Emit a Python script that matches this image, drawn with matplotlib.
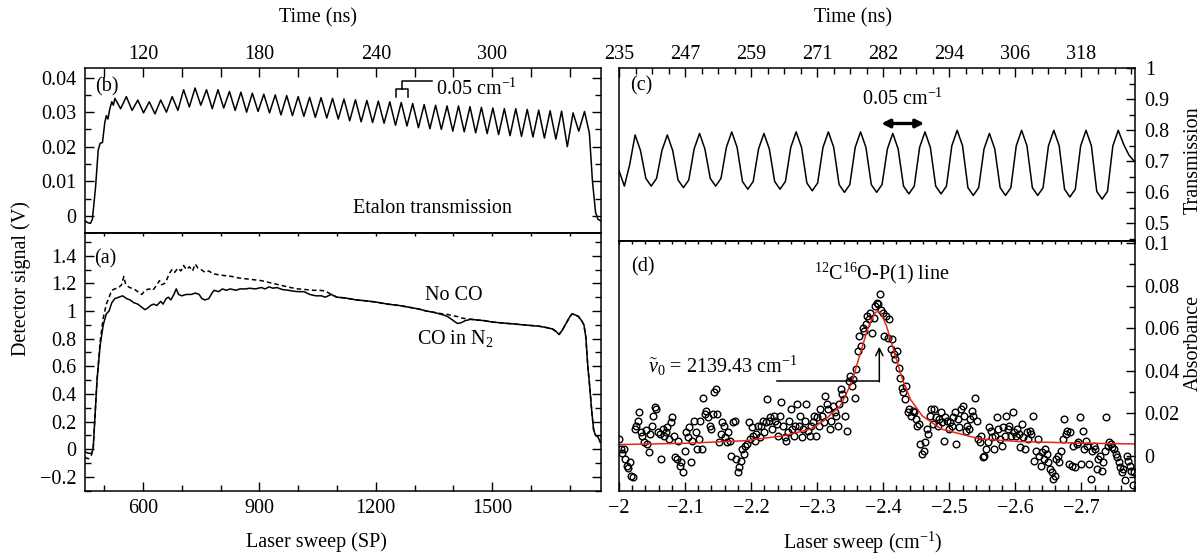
import matplotlib.pyplot as plt
import numpy as np
from matplotlib.ticker import MultipleLocator, FuncFormatter

plt.rcParams['font.family'] = ['Liberation Serif', 'DejaVu Serif']
plt.rcParams['mathtext.fontset'] = 'custom'
plt.rcParams['mathtext.rm'] = 'Liberation Serif'
plt.rcParams['mathtext.it'] = 'Liberation Serif:italic'
plt.rcParams['font.size'] = 14.5
plt.rcParams['axes.linewidth'] = 1.1

# ---- panel (b): etalon transmission, detector signal (V) vs sweep point
etalon_sp_start = [451, 458, 465, 470, 478, 485, 490, 496, 502, 506, 510, 515, 520, 524]
etalon_v_start = [-0.0015, -0.002, -0.0022, -0.001, 0.008, 0.019, 0.021, 0.0212,
                  0.027, 0.029, 0.028, 0.031, 0.033, 0.032]
# alternating peak / trough, half a fringe apart (14.75 SP)
etalon_sp_osc = np.arange(528, 1738, 14.75)
etalon_v_osc = [0.034, 0.031, 0.0345, 0.0305, 0.0335, 0.0298, 0.033, 0.0295, 0.0335, 0.030,
                0.0345, 0.0305, 0.0365, 0.0315, 0.037, 0.032, 0.0365, 0.031, 0.0365, 0.0312,
                0.036, 0.0305, 0.0358, 0.030, 0.0355, 0.0302, 0.0352, 0.0298, 0.035, 0.0292,
                0.0348, 0.029, 0.0345, 0.0288, 0.0343, 0.0285, 0.0342, 0.0283, 0.034, 0.028,
                0.0338, 0.0275, 0.0336, 0.0272, 0.0334, 0.027, 0.0332, 0.0268, 0.033, 0.0262,
                0.0328, 0.026, 0.0325, 0.0255, 0.0322, 0.0252, 0.032, 0.025, 0.0318, 0.0245,
                0.0318, 0.0243, 0.0316, 0.024, 0.0314, 0.0238, 0.0312, 0.0235, 0.031, 0.0232,
                0.031, 0.023, 0.0308, 0.0228, 0.0306, 0.0225, 0.0304, 0.0222, 0.0303, 0.020,
                0.0298, 0.0245, 0.0302]
etalon_sp_end = [1750, 1758, 1766, 1772, 1780]
etalon_v_end = [0.024, 0.010, 0.001, -0.001, -0.0015]

# ---- panel (a): detector signal with and without CO
sp_co = [451, 460, 468, 472, 476, 482, 490, 498, 506, 513, 520, 528, 538, 548, 558, 567, 577,
         587, 596, 605, 612, 620, 628, 636, 646, 652, 660, 666, 672, 680, 686, 692, 700, 712,
         725, 735, 745, 752, 760, 770, 778, 784, 795, 805, 815, 825, 840, 850, 865, 875, 890,
         905, 915, 925, 935, 945, 960, 975, 985, 1000, 1015, 1030, 1045, 1060, 1070, 1085,
         1100, 1120, 1150, 1170, 1200, 1230, 1260, 1290, 1310, 1330, 1350, 1370, 1385, 1400,
         1410, 1420, 1430, 1445, 1460, 1480, 1500, 1520, 1540, 1560, 1580, 1600, 1620, 1640,
         1655, 1665, 1672, 1680, 1690, 1700, 1706, 1715, 1722, 1730, 1736, 1741, 1746, 1751,
         1756, 1761, 1766, 1772, 1778]
co_in_n2 = [-0.02, -0.03, -0.03, 0.0, 0.2, 0.5, 0.75, 0.9, 0.98, 1.0, 1.06, 1.09, 1.10, 1.11,
            1.09, 1.08, 1.06, 1.05, 1.03, 1.01, 1.02, 1.04, 1.05, 1.04, 1.07, 1.05, 1.09, 1.10,
            1.08, 1.12, 1.16, 1.12, 1.11, 1.12, 1.12, 1.13, 1.12, 1.09, 1.08, 1.09, 1.13, 1.15,
            1.14, 1.16, 1.15, 1.16, 1.15, 1.16, 1.16, 1.165, 1.16, 1.17, 1.16, 1.175, 1.165,
            1.17, 1.155, 1.15, 1.145, 1.14, 1.14, 1.12, 1.11, 1.11, 1.10, 1.12, 1.10, 1.095,
            1.08, 1.075, 1.065, 1.05, 1.04, 1.025, 1.015, 1.0, 0.99, 0.975, 0.96, 0.93, 0.91,
            0.915, 0.93, 0.94, 0.935, 0.93, 0.92, 0.915, 0.91, 0.905, 0.90, 0.895, 0.89, 0.88,
            0.87, 0.85, 0.83, 0.86, 0.91, 0.96, 0.98, 0.97, 0.96, 0.93, 0.90, 0.81, 0.6, 0.45,
            0.28, 0.14, 0.10, 0.09, 0.05]
sp_noco = [451, 460, 468, 472, 476, 482, 490, 498, 506, 513, 520, 528, 538, 545, 551, 556, 566,
           577, 587, 597, 606, 616, 626, 636, 643, 648, 656, 662, 668, 675, 682, 690, 698, 705,
           712, 720, 728, 735, 742, 750, 760, 770, 780, 790, 800, 815, 830, 845, 860, 875, 890,
           905, 920, 935, 950, 965, 980, 1000, 1020, 1040, 1055, 1070, 1085, 1100, 1120, 1150,
           1170, 1200, 1230, 1260, 1290, 1310, 1330, 1350, 1370, 1385, 1400, 1410, 1420, 1430,
           1445, 1460, 1480, 1500, 1520, 1540, 1560, 1580, 1600, 1620, 1640, 1655, 1665, 1672,
           1680, 1690, 1700, 1706, 1715, 1722, 1730, 1736, 1741, 1746, 1751, 1756, 1761, 1766,
           1772, 1778]
no_co = [-0.06, -0.07, -0.04, 0.0, 0.2, 0.5, 0.78, 0.95, 1.05, 1.10, 1.15, 1.16, 1.17, 1.19,
         1.25, 1.19, 1.17, 1.16, 1.14, 1.12, 1.15, 1.16, 1.15, 1.19, 1.22, 1.19, 1.20, 1.23,
         1.27, 1.30, 1.28, 1.31, 1.29, 1.33, 1.30, 1.32, 1.29, 1.34, 1.31, 1.30, 1.28, 1.29,
         1.27, 1.265, 1.26, 1.255, 1.25, 1.24, 1.235, 1.23, 1.225, 1.22, 1.21, 1.20, 1.19, 1.18,
         1.17, 1.16, 1.155, 1.15, 1.15, 1.145, 1.12, 1.10, 1.095, 1.08, 1.075, 1.065, 1.05,
         1.04, 1.025, 1.015, 1.0, 0.99, 0.98, 0.975, 0.965, 0.96, 0.95, 0.945, 0.94, 0.935,
         0.93, 0.92, 0.915, 0.91, 0.905, 0.90, 0.895, 0.89, 0.88, 0.87, 0.85, 0.83, 0.86, 0.91,
         0.96, 0.98, 0.97, 0.96, 0.93, 0.90, 0.81, 0.6, 0.45, 0.28, 0.14, 0.10, 0.09, 0.05]

sp_ticks = [600, 900, 1200, 1500]
time_left_ns = [120, 180, 240, 300]

# ---- panel (c): etalon transmission, sampled every 1/6 fringe
transmission = [0.67, 0.62, 0.69, 0.785, 0.735, 0.645, 0.62, 0.645, 0.735, 0.785, 0.735, 0.64,
                0.615, 0.64, 0.74, 0.79, 0.74, 0.645, 0.62, 0.645, 0.745, 0.795, 0.745, 0.635,
                0.61, 0.635, 0.74, 0.79, 0.74, 0.635, 0.61, 0.635, 0.745, 0.795, 0.745, 0.63,
                0.605, 0.63, 0.745, 0.795, 0.745, 0.625, 0.60, 0.625, 0.745, 0.795, 0.745, 0.625,
                0.60, 0.625, 0.74, 0.79, 0.74, 0.62, 0.595, 0.62, 0.745, 0.795, 0.745, 0.62,
                0.595, 0.62, 0.75, 0.80, 0.75, 0.615, 0.59, 0.615, 0.74, 0.79, 0.74, 0.615,
                0.59, 0.615, 0.75, 0.80, 0.75, 0.615, 0.59, 0.615, 0.75, 0.80, 0.75, 0.61,
                0.585, 0.61, 0.75, 0.80, 0.75, 0.603, 0.578, 0.603, 0.75, 0.80, 0.755, 0.72, 0.70]
sweep_c = np.linspace(-2.0, -2.78, len(transmission))

sweep_ticks = [-2.0, -2.1, -2.2, -2.3, -2.4, -2.5, -2.6, -2.7]
time_right_ns = [235, 247, 259, 271, 282, 294, 306, 318]

# ---- panel (d): measured absorbance (x 1000) and Lorentzian fit
absorbance_milli = [
    7.8, 3, 1, 3, -1.6, -4.7, -6, -3, -9.4, -10,
    12.5, 14, 16.4, 20.3, 11, 9.4, 6.3, 12, 5.5, 1.6, 10,
    14, 18.8, 22.7, 21.9, 11, 10, -1.6, 12.5, 9.4, 11, 13.3, 7.8, 15.6, 18,
    9.4, -0.8, -1.6, 7, -4.7, -3.1, -7.8, 2.3, 11, 8.6, 13.3, -3.1, 7, 16.4, 11, 3.1, 7.8, 16.4, 3.1,
    27.3, 19.5, 21.1, 18, 14, 12.5, 19.5, 29.7, 31.2, 19.5, 6.3, 10.2, 15.6, 14, 8.6, 6.3, 11,
    7, 0, 15.6, 16.4, -1.6, -7.8, -5.5, -2.3, 3.1, 0.8, 4.7, 5.5, 15.6, 7.8,
    13.3, 9.4, 7, 10.2, 14, 8.6, 14, 16.4, 11, 15.6, 26.5, 16.4, 18, 12.5, 18.8, 16.4, 14.8, 9.4, 18.8, 25, 14,
    8.6, 7, 11, 16.4, 21.9, 12.5, 9.4, 14, 24.2, 14, 18.8, 8.6, 12.5, 16.4, 24.2, 11.7, 9.4, 14, 15.6, 18.8, 9.4,
    18, 14, 21.9, 18.8, 15.6, 28.1, 24.2, 21.9, 12.5, 16.4, 23.4, 20.3, 18.8, 14, 24.2, 31.2, 28.9, 26.5, 18.8, 11.7,
    35.1, 37.4, 32.8, 35.9, 27.3, 40.6, 49.2, 56.2, 51.5, 60.1, 58.5, 61.7, 65.6, 64.1, 67.2,
    57.8, 64.8, 70.3, 71.8, 71.1, 76.2, 68.7, 67.2, 56.2, 65.6, 55.4, 64.1, 50, 54.7, 47.7,
    45.3, 49.2, 41.4, 36.7, 32, 29.7, 26.5, 32.8, 20.3, 21.9, 18.8, 21.1, 20.3, 17.2, 14, 14.8, 5.5, 0.8, 2.3,
    6.3, 12.5, 10.2, 18.8, 21.9, 14.8, 21.9, 18, 14, 17.2, 20.3, 15.6, 7, 18, 16.4, 12.5, 15.6, 14,
    18, 20.3, 5.5, 17.2, 13.3, 21.9, 23.4, 18.8, 11.7, 14, 12.5, 17.2, 21.1, 18.8, 27.3, 16.4, 7.8, 6.3,
    9.4, -0.8, 0, 3.1, 6.3, 13.3, 11.7, 8.6, 3.1, 9.4, 18, 12.5, 7.8, 4.7, 13.3, 9.4, 18.8, 12.5, 14, 9.4,
    20.3, 11, 9.4, 12.5, 10.2, 3.9, 14.8, 8.6, 3.1, 11, 7.8, 11.7, 10.2, 18.8, -2.3, 2.3, 7.8, 0, -4.7, 1.6,
    -1.6, 3.1, 0.8, -3.1, -6.2, -7.8, -11, -9.4, -1.6, 0, -3.1, 2.3, 7.8, 17.2, 10.2, 11.7, -3.9, 11, -4.7, 4.7,
    -5.5, 5.5, 6.3, 18, -3.9, 11.7, 3.1, 7, 4.7, -3.9, -11, 2.3, 4.7, 3.1, -6.2, -1.6, 0, -7, -3.1, 2.3,
    18, 4.7, 6.3, 5.5, 3.9, 3.1, 0.8, -0.8, -3.1, -5.5, -7.8, -6.2, -11.7, 0, -2.3, -4.7, -7, -14, -7.8]
sweep_d = np.linspace(-2.0, -2.78, len(absorbance_milli))

fit_sweep = [-2.0, -2.1, -2.19, -2.25, -2.29, -2.31, -2.335, -2.352, -2.364, -2.376, -2.384,
             -2.388, -2.392, -2.396, -2.40, -2.405, -2.417, -2.429, -2.441, -2.459, -2.488,
             -2.547, -2.607, -2.695, -2.78]
fit_milli = [5.2, 5.8, 7.0, 9.4, 12.5, 16.4, 23.4, 34.3, 46.8, 59.3, 65.0, 67.3, 67.9, 67.3,
             64.5, 60.9, 48.4, 35.9, 26.5, 18.7, 12.5, 7.8, 6.6, 5.9, 5.5]


def num_fmt(v, pos):
    s = '%g' % round(v, 6)
    if s == '-0':
        s = '0'
    return s.replace('-', '\u2212')


fig = plt.figure(figsize=(12.02, 5.54), dpi=100)
W, H = 1202.0, 554.0


def box(x0, y0, x1, y1):
    return [x0 / W, 1 - y1 / H, (x1 - x0) / W, (y1 - y0) / H]


ax_b = fig.add_axes(box(85, 68.3, 601, 232.7))
ax_a = fig.add_axes(box(85, 232.7, 601, 490.7))
ax_c = fig.add_axes(box(619, 68.3, 1135, 240.7))
ax_d = fig.add_axes(box(619, 240.7, 1135, 490.7))

lw = 1.1
kw_major = dict(direction='in', length=6.5, width=1.0)
kw_minor = dict(direction='in', length=4, width=1.0)

# ---------- (b)
ax_b.plot(np.concatenate([etalon_sp_start, etalon_sp_osc, etalon_sp_end]),
          np.concatenate([etalon_v_start, etalon_v_osc, etalon_v_end]), color='k', lw=lw)
ax_b.set_xlim(451, 1780)
ax_b.set_ylim(-0.0049, 0.0427)
ax_b.set_xticks(sp_ticks)
ax_b.set_xticklabels([str(t) for t in time_left_ns])
ax_b.xaxis.set_minor_locator(MultipleLocator(100))
ax_b.tick_params(axis='x', which='both', top=True, bottom=False, labeltop=True,
                 labelbottom=False, direction='in', length=6.5, width=1.0, pad=3)
ax_b.yaxis.set_major_locator(MultipleLocator(0.01))
ax_b.yaxis.set_minor_locator(MultipleLocator(0.005))
ax_b.yaxis.set_major_formatter(FuncFormatter(num_fmt))
ax_b.tick_params(axis='y', which='major', left=True, right=True, pad=6, **kw_major)
ax_b.tick_params(axis='y', which='minor', left=True, right=True, **kw_minor)
ax_b.text(508, 0.0372, '(b)', ha='center', va='center')
ax_b.text(1346, 0.0021, 'Etalon transmission', ha='center', va='center')
ax_b.plot([1252.5, 1252.5, 1281.7, 1281.7], [0.0345, 0.0366, 0.0366, 0.0345], color='k', lw=lw)
ax_b.plot([1267, 1267, 1344.6], [0.0366, 0.0391, 0.0391], color='k', lw=lw)
ax_b.text(1355, 0.0366, '0.05 cm$^{-1}$', ha='left', va='center')

# ---------- (a)
ax_a.plot(sp_co, co_in_n2, color='k', lw=lw)
ax_a.plot(sp_noco, no_co, color='k', lw=lw, ls=(0, (3, 2)))
ax_a.set_xlim(451, 1780)
ax_a.set_ylim(-0.301, 1.567)
ax_a.set_xticks(sp_ticks)
ax_a.xaxis.set_minor_locator(MultipleLocator(100))
ax_a.tick_params(axis='x', which='major', bottom=True, top=False, pad=6, **kw_major)
ax_a.tick_params(axis='x', which='minor', bottom=True, top=False, **kw_minor)
ax_a.yaxis.set_major_locator(MultipleLocator(0.2))
ax_a.yaxis.set_minor_locator(MultipleLocator(0.1))
ax_a.yaxis.set_major_formatter(FuncFormatter(num_fmt))
ax_a.tick_params(axis='y', which='major', left=True, right=True, pad=6, **kw_major)
ax_a.tick_params(axis='y', which='minor', left=True, right=True, **kw_minor)
sec_a = ax_a.secondary_xaxis('top')
sec_a.set_xticks(np.arange(500, 1800, 100))
sec_a.tick_params(axis='x', direction='in', length=2.5, width=1.0, labeltop=False)
ax_a.text(502, 1.379, '(a)', ha='center', va='center')
ax_a.text(1402, 1.113, 'No CO', ha='center', va='center')
ax_a.text(1405, 0.80, 'CO in N$_2$', ha='center', va='center')

# ---------- (c)
ax_c.plot(sweep_c, transmission, color='k', lw=lw)
ax_c.set_xlim(-2.0, -2.781)
ax_c.set_ylim(0.444, 1.0)
ax_c.set_xticks(sweep_ticks)
ax_c.set_xticklabels([str(t) for t in time_right_ns])
ax_c.xaxis.set_minor_locator(MultipleLocator(0.025))
ax_c.tick_params(axis='x', which='major', top=True, bottom=False, labeltop=True,
                 labelbottom=False, pad=3, **kw_major)
ax_c.tick_params(axis='x', which='minor', top=True, bottom=False, **kw_minor)
ax_c.yaxis.set_major_locator(MultipleLocator(0.1))
ax_c.yaxis.set_minor_locator(MultipleLocator(0.05))
ax_c.yaxis.set_major_formatter(FuncFormatter(num_fmt))
ax_c.tick_params(axis='y', which='major', left=False, right=True, labelleft=False,
                 labelright=True, pad=7, **kw_major)
ax_c.tick_params(axis='y', which='minor', left=False, right=True, **kw_minor)
ax_c.text(-2.033, 0.942, '(c)', ha='center', va='center')
ax_c.text(-2.429, 0.899, '0.05 cm$^{-1}$', ha='center', va='center')
ax_c.annotate('', xy=(-2.462, 0.822), xytext=(-2.397, 0.822),
              arrowprops=dict(arrowstyle='<|-|>', color='k', lw=2.4, mutation_scale=12,
                              shrinkA=0, shrinkB=0))

# ---------- (d)
ax_d.plot(sweep_d, np.array(absorbance_milli) / 1000, 'o', mfc='none', mec='k', ms=4.8, mew=1.0)
ax_d.plot(fit_sweep, np.array(fit_milli) / 1000, color='#e8251f', lw=1.1)
ax_d.set_xlim(-2.0, -2.781)
ax_d.set_ylim(-0.0165, 0.1011)
ax_d.set_xticks(sweep_ticks)
ax_d.xaxis.set_major_formatter(FuncFormatter(num_fmt))
ax_d.xaxis.set_minor_locator(MultipleLocator(0.02))
ax_d.tick_params(axis='x', which='major', bottom=True, top=False, pad=6, **kw_major)
ax_d.tick_params(axis='x', which='minor', bottom=True, top=False, **kw_minor)
ax_d.yaxis.set_major_locator(MultipleLocator(0.02))
ax_d.yaxis.set_minor_locator(MultipleLocator(0.01))
ax_d.yaxis.set_major_formatter(FuncFormatter(num_fmt))
ax_d.tick_params(axis='y', which='major', left=False, right=True, labelleft=False,
                 labelright=True, pad=7, **kw_major)
ax_d.tick_params(axis='y', which='minor', left=False, right=True, **kw_minor)
sec_d = ax_d.secondary_xaxis('top')
sec_d.set_xticks(np.arange(-2.0, -2.79, -0.02))
sec_d.tick_params(axis='x', direction='in', length=2.5, width=1.0, labeltop=False)
ax_d.text(-2.036, 0.089, '(d)', ha='center', va='center')
ax_d.text(-2.397, 0.0855, '$^{12}$C$^{16}$O-P(1) line', ha='center', va='center')
ax_d.plot([-2.239, -2.394], [0.0351, 0.0351], color='k', lw=lw)
ax_d.annotate('', xy=(-2.394, 0.0512), xytext=(-2.394, 0.0347),
              arrowprops=dict(arrowstyle='->', color='k', lw=lw, mutation_scale=13,
                              shrinkA=0, shrinkB=0))
ax_d.text(-2.0436, 0.0421, r'$\tilde{\nu}_0$ = 2139.43 cm$^{-1}$', ha='left', va='center')

# ---------- shared labels
fig.text(318 / W, 1 - 18.3 / H, 'Time (ns)', ha='center', va='center')
fig.text(853 / W, 1 - 18.3 / H, 'Time (ns)', ha='center', va='center')
fig.text(316 / W, 1 - 541.7 / H, 'Laser sweep (SP)', ha='center', va='center')
fig.text(863 / W, 1 - 543 / H, 'Laser sweep (cm$^{-1}$)', ha='center', va='center')
fig.text(21 / W, 1 - 279 / H, 'Detector signal (V)', ha='center', va='center', rotation=90)
fig.text(1193 / W, 1 - 160 / H, 'Transmission', ha='center', va='center', rotation=90)
fig.text(1193 / W, 1 - 343 / H, 'Absorbance', ha='center', va='center', rotation=90)

fig.savefig('out.png', dpi=100)
